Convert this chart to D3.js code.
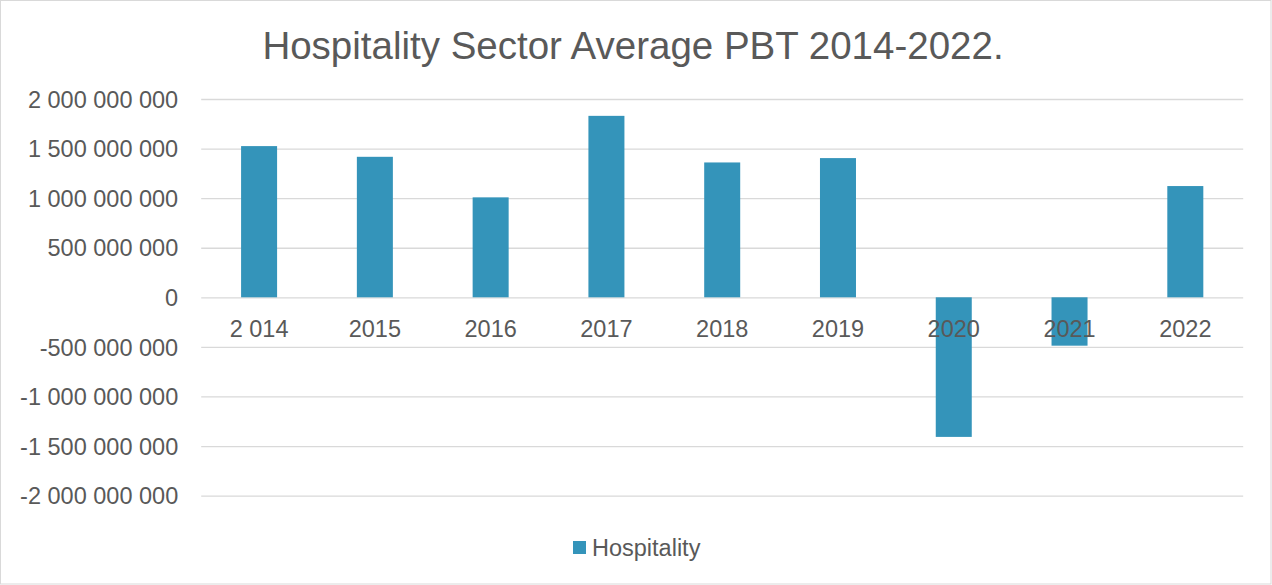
<!DOCTYPE html>
<html>
<head>
<meta charset="utf-8">
<script src="https://cdn.jsdelivr.net/npm/d3@7"></script>
<style>
  html, body { margin: 0; padding: 0; background: #ffffff; }
  svg { display: block; }
  text { font-family: "Liberation Sans", Arial, sans-serif; fill: #595959; }
</style>
</head>
<body>
<svg id="chart" width="1272" height="585"></svg>
<script>
const categories = ["2 014", "2015", "2016", "2017", "2018", "2019", "2020", "2021", "2022"];
const hospitality = [1525000000, 1417000000, 1008000000, 1830000000, 1360000000, 1404000000, -1408000000, -488000000, 1122000000];
const yTicks = [2000000000, 1500000000, 1000000000, 500000000, 0, -500000000, -1000000000, -1500000000, -2000000000];
const seriesName = "Hospitality";
const titleText = "Hospitality Sector Average PBT 2014-2022.";

const W = 1272, H = 585;
const plot = { left: 201.2, right: 1243.2, top: 99, bottom: 495.6 };
const barColor = "#3494BA";
const gridColor = "#d9d9d9";

const svg = d3.select("#chart");

svg.append("rect")
  .attr("x", 0.5).attr("y", 0.5)
  .attr("width", W - 1.5).attr("height", H - 1.5)
  .attr("fill", "#ffffff").attr("stroke", gridColor).attr("stroke-width", 1);

const x = d3.scaleBand()
  .domain(categories)
  .range([plot.left, plot.right])
  .paddingInner(0.689)
  .paddingOuter(0.3445);

const y = d3.scaleLinear()
  .domain([-2000000000, 2000000000])
  .range([plot.bottom, plot.top]);

const locale = d3.formatLocale({ decimal: ".", thousands: " ", grouping: [3], currency: ["", ""], minus: "-" });
const fmt = locale.format(",d");

// gridlines + y labels via axis
const yAxis = d3.axisLeft(y)
  .tickValues(yTicks)
  .tickSize(-(plot.right - plot.left))
  .tickPadding(23)
  .tickFormat(fmt);

const gy = svg.append("g")
  .attr("transform", `translate(${plot.left},0)`)
  .call(yAxis);
gy.select(".domain").remove();
gy.selectAll(".tick line").attr("stroke", gridColor).attr("stroke-width", 1.3);
gy.selectAll(".tick text")
  .attr("fill", "#595959")
  .style("font-size", "23.5px")
  .attr("dy", "0.35em");

// bars
svg.append("g").selectAll("rect")
  .data(categories.map((c, i) => ({ c, v: hospitality[i] })))
  .join("rect")
  .attr("x", d => x(d.c))
  .attr("width", x.bandwidth())
  .attr("y", d => y(Math.max(0, d.v)))
  .attr("height", d => Math.abs(y(d.v) - y(0)))
  .attr("fill", barColor);

// x labels via axis at zero line
const xAxis = d3.axisBottom(x).tickSize(0).tickPadding(0);
const gx = svg.append("g")
  .attr("transform", `translate(0,${y(0)})`)
  .call(xAxis);
gx.select(".domain").remove();
gx.selectAll(".tick text")
  .attr("fill", "#595959")
  .style("font-size", "23.5px")
  .attr("y", 39.7)
  .attr("dy", 0);

// title
svg.append("text")
  .attr("x", 633)
  .attr("y", 58.5)
  .attr("text-anchor", "middle")
  .style("font-size", "38.5px")
  .text(titleText);

// legend
const lg = svg.append("g");
lg.append("rect")
  .attr("x", 573).attr("y", 541)
  .attr("width", 13).attr("height", 13)
  .attr("fill", barColor);
lg.append("text")
  .attr("x", 592).attr("y", 555.5)
  .style("font-size", "23.5px")
  .text(seriesName);
</script>
</body>
</html>
